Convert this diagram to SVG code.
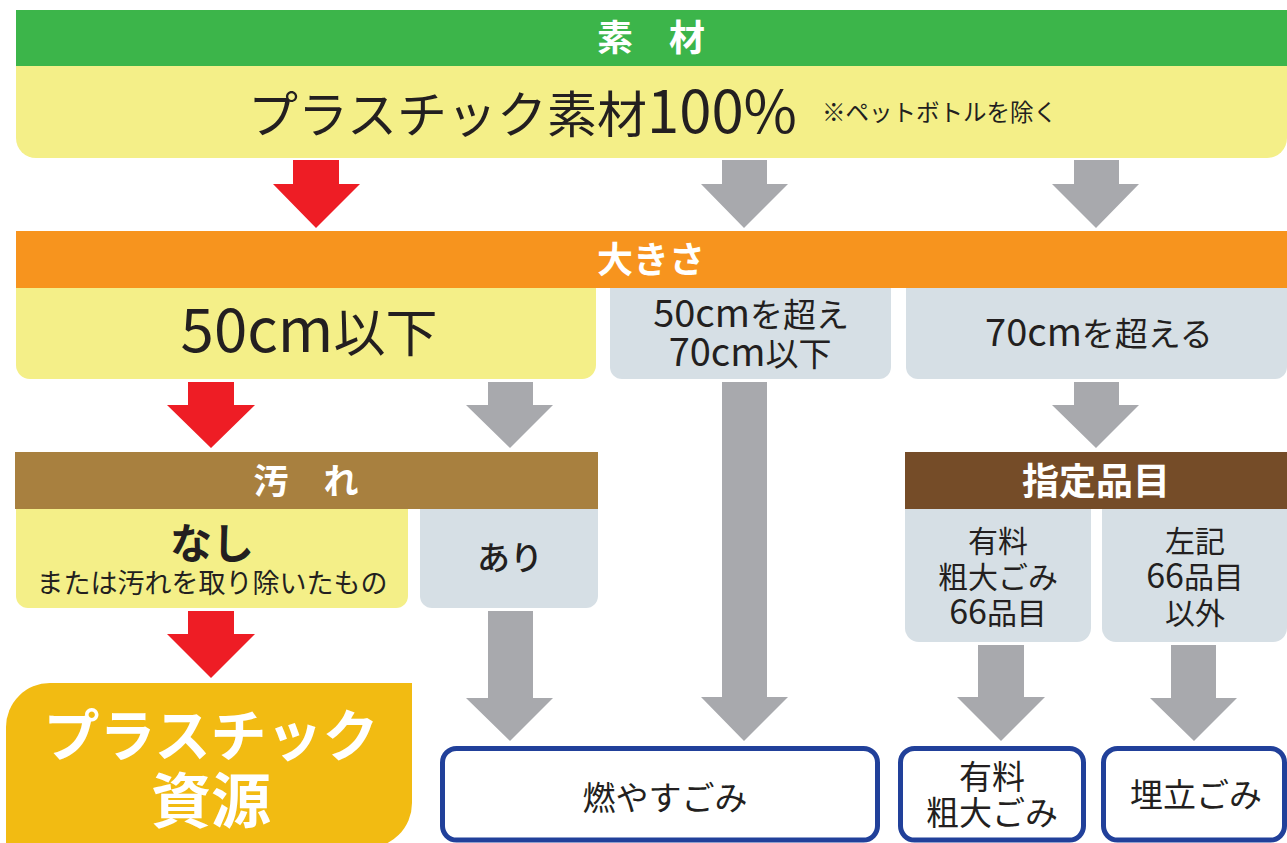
<svg xmlns="http://www.w3.org/2000/svg" width="1287" height="843" viewBox="0 0 1287 843">
<style>
text{font-family:"Noto Sans CJK JP","Noto Sans",sans-serif;}
.hd{fill:#ffffff;font-weight:700;text-anchor:middle;}
.tx{fill:#231f20;font-weight:400;text-anchor:middle;}
.md{font-weight:500;}
.yl{fill:#f4ef88;}
.gb{fill:#d6dfe5;}
.ga{fill:#a8a9ad;}
.ra{fill:#ee1d25;}
.bx{fill:#ffffff;stroke:#21409a;stroke-width:5;}
</style>
<rect width="1287" height="843" fill="#ffffff"/>

<g id="connectors">
  <polygon class="ra" points="293,160 339,160 339,184 360,184 316,228 273,184 293,184"/>
  <polygon class="ga" points="722,160 767,160 767,184 788,184 744,228 701,184 722,184"/>
  <polygon class="ga" points="1074,160 1119,160 1119,184 1139,184 1096,228 1052,184 1074,184"/>
  <polygon class="ra" points="188,382 234,382 234,405 255,405 211,448 167,405 188,405"/>
  <polygon class="ga" points="488,382 533,382 533,405 553,405 510,448 466,405 488,405"/>
  <polygon class="ga" points="1074,382 1119,382 1119,405 1139,405 1096,448 1052,405 1074,405"/>
  <polygon class="ga" points="722,382 767,382 767,697 788,697 744,741 701,697 722,697"/>
  <polygon class="ra" points="188,611 234,611 234,634 255,634 211,678 167,634 188,634"/>
  <polygon class="ga" points="488,611 533,611 533,698 553,698 510,741 466,698 488,698"/>
  <polygon class="ga" points="978,645 1024,645 1024,697 1045,697 1001,741 957,697 978,697"/>
  <polygon class="ga" points="1171,645 1216,645 1216,698 1237,698 1194,741 1150,698 1171,698"/>
</g>

<g id="material">
  <rect x="16" y="10" width="1271" height="56" fill="#3cb54a"/>
  <text class="hd" x="651" y="51" font-size="36">素　材</text>
</g>

<g id="plastic100">
  <path class="yl" d="M16 66 H1287 V138 A20 20 0 0 1 1267 158 H36 A20 20 0 0 1 16 138 Z"/>
  <text class="tx" x="248" y="133" font-size="50" style="text-anchor:start">プラスチック素材<tspan font-size="58">100%</tspan></text>
  <text class="tx" x="822" y="121" font-size="23.5" style="text-anchor:start">※ペットボトルを除く</text>
</g>

<g id="size">
  <rect x="16" y="231" width="1271" height="57" fill="#f7941e"/>
  <text class="hd" x="651" y="273" font-size="36">大きさ</text>
</g>

<g id="under50">
  <path class="yl" d="M16 288 H596 V365 A14 14 0 0 1 582 379 H30 A14 14 0 0 1 16 365 Z"/>
  <text class="tx" x="309" y="352" font-size="52"><tspan font-size="60">50cm</tspan>以下</text>
</g>

<g id="50to70">
  <path class="gb" d="M610 288 H891 V367 A12 12 0 0 1 879 379 H622 A12 12 0 0 1 610 367 Z"/>
  <text class="tx" font-size="33"><tspan x="751" y="327"><tspan font-size="38">50cm</tspan>を超え</tspan><tspan x="750" y="366"><tspan font-size="38">70cm</tspan>以下</tspan></text>
</g>

<g id="over70">
  <path class="gb" d="M906 288 H1287 V367 A12 12 0 0 1 1275 379 H918 A12 12 0 0 1 906 367 Z"/>
  <text class="tx" x="1099" y="346" font-size="33"><tspan font-size="38">70cm</tspan>を超える</text>
</g>

<g id="dirt">
  <rect x="15" y="452" width="583" height="57" fill="#a8803f"/>
  <text class="hd" x="306" y="494" font-size="35">汚　れ</text>
</g>

<g id="nashi">
  <path class="yl" d="M16 509 H408 V596 A12 12 0 0 1 396 608 H28 A12 12 0 0 1 16 596 Z"/>
  <text class="tx"><tspan x="212" y="559" font-size="42" style="font-weight:600">なし</tspan><tspan x="212" y="593" font-size="27">または汚れを取り除いたもの</tspan></text>
</g>

<g id="ari">
  <path class="gb" d="M420 509 H598 V596 A12 12 0 0 1 586 608 H432 A12 12 0 0 1 420 596 Z"/>
  <text class="tx md" x="510" y="570" font-size="33">あり</text>
</g>

<g id="designated">
  <rect x="905" y="452" width="382" height="57" fill="#754c28"/>
  <text class="hd" x="1096" y="495" font-size="37">指定品目</text>
</g>

<g id="paid66">
  <path class="gb" d="M905 509 H1091 V628 A14 14 0 0 1 1077 642 H919 A14 14 0 0 1 905 628 Z"/>
  <text class="tx" font-size="30"><tspan x="998" y="552">有料</tspan><tspan x="998" y="588">粗大ごみ</tspan><tspan x="998" y="624"><tspan font-size="34">66</tspan>品目</tspan></text>
</g>

<g id="other66">
  <path class="gb" d="M1102 509 H1287 V628 A14 14 0 0 1 1273 642 H1116 A14 14 0 0 1 1102 628 Z"/>
  <text class="tx" font-size="30"><tspan x="1195" y="552">左記</tspan><tspan x="1195" y="588"><tspan font-size="34">66</tspan>品目</tspan><tspan x="1195" y="624">以外</tspan></text>
</g>

<g id="plastic-resource">
  <path d="M50 683 H412 V803 A45 45 0 0 1 367 848 H6 V727 A44 44 0 0 1 50 683 Z" fill="#f2bb12"/>
  <text class="hd"><tspan x="211" y="756" font-size="56">プラスチック</tspan><tspan x="211" y="823" font-size="60">資源</tspan></text>
</g>

<g id="burnable">
  <rect class="bx" x="442.5" y="748.5" width="435" height="91.5" rx="14"/>
  <text class="tx" x="665" y="810" font-size="33">燃やすごみ</text>
</g>

<g id="paid-bulky">
  <rect class="bx" x="900.5" y="748.5" width="183" height="91.5" rx="14"/>
  <text class="tx" font-size="33"><tspan x="992" y="789">有料</tspan><tspan x="992" y="825">粗大ごみ</tspan></text>
</g>

<g id="landfill">
  <rect class="bx" x="1103.5" y="748.5" width="181" height="91.5" rx="14"/>
  <text class="tx" x="1196" y="807" font-size="33">埋立ごみ</text>
</g>
</svg>
